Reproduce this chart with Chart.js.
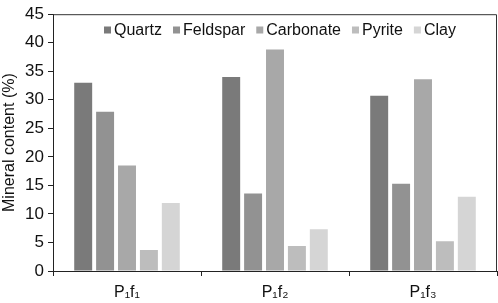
<!DOCTYPE html>
<html>
<head>
<meta charset="utf-8">
<script src="https://cdn.jsdelivr.net/npm/chart.js@4/dist/chart.umd.min.js"></script>
<style>
html, body { margin: 0; padding: 0; background: #fff; }
#wrap { width: 498px; height: 303px; }
</style>
</head>
<body>
<div id="wrap"><canvas id="graphOutputCanvas" width="498" height="303"></canvas></div>
<script>
// data
var categories = ["P\u2081f\u2081", "P\u2081f\u2082", "P\u2081f\u2083"];
var seriesNames = ["Quartz", "Feldspar", "Carbonate", "Pyrite", "Clay"];
var quartz = [33.0, 34.0, 30.7];
var feldspar = [27.9, 13.6, 15.3];
var carbonate = [18.5, 38.8, 33.6];
var pyrite = [3.7, 4.4, 5.2];
var clay = [11.9, 7.3, 13.0];
var yTicks = [0, 5, 10, 15, 20, 25, 30, 35, 40, 45];

var colors = ["#7a7a7a", "#929292", "#a8a8a8", "#bdbdbd", "#d5d5d5"];
var allValues = [quartz, feldspar, carbonate, pyrite, clay];

var fontFamily = "'Liberation Sans', Arial, sans-serif";
var textColor = "#111";

//legend drawn inside the plot area
var innerLegend = {
    id: "innerLegend",
    afterDraw: function(chart){
        var ctx = chart.ctx;
        var area = chart.chartArea;
        ctx.save();
        ctx.font = "16px " + fontFamily;
        ctx.textBaseline = "middle";
        var box = 7, gapBox = 3, gapItem = 11;
        var x = 104;
        var y = 30;
        chart.data.datasets.forEach(function(ds){
            ctx.fillStyle = ds.backgroundColor;
            ctx.fillRect(x, y - box / 2, box, box);
            x += box + gapBox;
            ctx.fillStyle = textColor;
            ctx.fillText(ds.label, x, y + 1);
            x += ctx.measureText(ds.label).width + gapItem;
        });
        // frame top and right
        ctx.strokeStyle = "#333";
        ctx.lineWidth = 1;
        ctx.beginPath();
        ctx.moveTo(area.left, area.top + 0.5);
        ctx.lineTo(area.right - 0.5, area.top + 0.5);
        ctx.lineTo(area.right - 0.5, area.bottom);
        ctx.stroke();
        ctx.restore();
    }
};

var datasets = [];
for(var i = 0; i < seriesNames.length; i++){
    datasets.push({
        label: seriesNames[i],
        data: allValues[i],
        backgroundColor: colors[i],
        borderWidth: 0,
        categoryPercentage: 0.74,
        barPercentage: 0.82
    });
}

var currentChart = new Chart(document.getElementById("graphOutputCanvas"), {
    type: "bar",
    data: {
        labels: categories,
        datasets: datasets
    },
    plugins: [innerLegend],
    options: {
        responsive: false,
        animation: false,
        layout: { padding: { top: 7, right: 1, left: 0, bottom: 0 } },
        plugins: {
            legend: { display: false },
            tooltip: { enabled: false }
        },
        scales: {
            x: {
                offset: true,
                grid: {
                    display: true,
                    offset: true,
                    drawOnChartArea: false,
                    drawTicks: true,
                    tickLength: 5,
                    color: "#222"
                },
                border: { display: true, color: "#222", width: 1 },
                ticks: {
                    color: textColor,
                    font: { family: fontFamily, size: 16 },
                    padding: 7
                },
                afterFit: function(scale){ scale.height = 32; }
            },
            y: {
                min: 0,
                max: 45,
                afterBuildTicks: function(scale){
                    scale.ticks = yTicks.map(function(v){ return { value: v }; });
                },
                grid: {
                    display: true,
                    drawOnChartArea: false,
                    drawTicks: true,
                    tickLength: 5,
                    color: "#222"
                },
                border: { display: true, color: "#222", width: 1 },
                ticks: {
                    color: textColor,
                    font: { family: fontFamily, size: 17 },
                    padding: 4
                },
                title: {
                    display: true,
                    text: "Mineral content (%)",
                    color: textColor,
                    font: { family: fontFamily, size: 16 },
                    padding: { top: 0, bottom: 2 }
                },
                afterFit: function(scale){ scale.width = 53; }
            }
        }
    }
});
</script>
</body>
</html>
